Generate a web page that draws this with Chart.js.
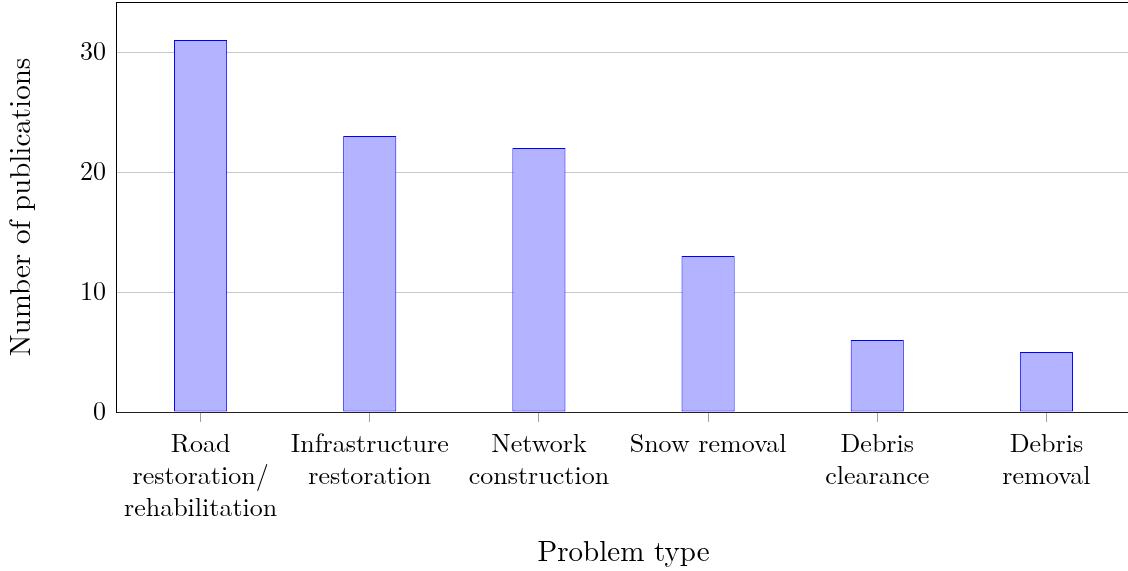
<!DOCTYPE html>
<html>
<head>
<meta charset="utf-8">
<script src="https://cdn.jsdelivr.net/npm/chart.js@4"></script>
<style>
  html, body { margin: 0; padding: 0; background: #fff; overflow: hidden; }
  #wrap { width: 1131px; height: 571px; }
</style>
</head>
<body>
<div id="wrap"><canvas id="problemChart"></canvas></div>
<script>
const categories = [
    ['Road', 'restoration/', 'rehabilitation'],
    ['Infrastructure', 'restoration'],
    ['Network', 'construction'],
    'Snow removal',
    ['Debris', 'clearance'],
    ['Debris', 'removal']
];
const publications = [31, 23, 22, 13, 6, 5];
const yTicks = [0, 10, 20, 30];
const yMax = 34.17;

const serif = "'Latin Modern Roman', 'CMU Serif', 'Liberation Serif', serif";

const ctx = document.getElementById('problemChart').getContext('2d');
const problemChart = new Chart(ctx, {
    type: 'bar',
    data: {
        labels: categories,
        datasets: [{
            label: 'Publications',
            data: publications,
            backgroundColor: 'rgb(179,179,255)',
            borderColor: '#0000ff',
            borderWidth: 1,
            borderSkipped: false,
            categoryPercentage: 1,
            barPercentage: 0.314
        }]
    },
    options: {
        responsive: true,
        maintainAspectRatio: false,
        animation: false,
        layout: { padding: { top: 2, right: 0, bottom: 0, left: 0 } },
        plugins: {
            legend: { display: false },
            tooltip: { enabled: false }
        },
        scales: {
            x: {
                grid: {
                    offset: false,
                    drawOnChartArea: false,
                    drawTicks: true,
                    tickLength: 10,
                    color: '#a0a0a0'
                },
                border: { display: true, color: '#222' },
                ticks: {
                    color: '#000',
                    padding: 6,
                    maxRotation: 0,
                    autoSkip: false,
                    font: { family: serif, size: 26, lineHeight: 1.23 }
                },
                title: {
                    display: true,
                    text: 'Problem type',
                    color: '#000',
                    padding: { top: 0, bottom: 1 },
                    font: { family: serif, size: 29 }
                },
                afterFit: function(scale) {
                    scale.height = 159;
                    scale.paddingLeft = 0;
                    scale.paddingRight = 0;
                }
            },
            y: {
                min: 0,
                max: yMax,
                afterBuildTicks: function(scale) {
                    // keep only the labelled ticks plus the top edge
                    scale.ticks = scale.ticks.filter(t => yTicks.includes(t.value) || t.value === yMax);
                },
                grid: {
                    drawTicks: false,
                    color: c => (c.tick && c.tick.value === yMax) ? '#000' : '#c8c8c8',
                    lineWidth: 1
                },
                border: { display: true, color: '#000' },
                ticks: {
                    color: '#000',
                    padding: 10,
                    font: { family: serif, size: 26 },
                    callback: v => yTicks.includes(v) ? v : ''
                },
                title: {
                    display: true,
                    text: 'Number of publications',
                    color: '#000',
                    padding: { top: 4, bottom: 0 },
                    font: { family: serif, size: 29 }
                },
                afterFit: function(scale) {
                    scale.width = 116;
                    scale.paddingTop = 0;
                    scale.paddingBottom = 0;
                }
            }
        }
    }
});
</script>
</body>
</html>
